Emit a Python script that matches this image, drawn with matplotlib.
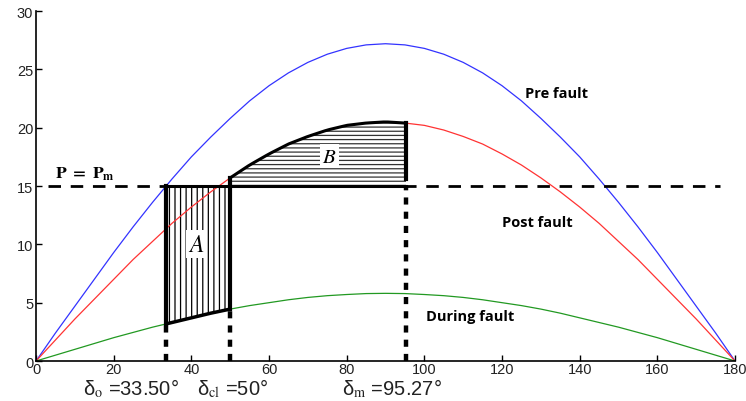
import numpy as np
import matplotlib
matplotlib.use("Agg")
import matplotlib.pyplot as plt

# ---- data ----
delta = [0, 5, 10, 15, 20, 25, 30, 35, 40, 45, 50, 55, 60, 65, 70, 75, 80, 85, 90,
         95, 100, 105, 110, 115, 120, 125, 130, 135, 140, 145, 150, 155, 160, 165, 170, 175, 180]
pre_fault = [0, 2.4, 4.7, 7.0, 9.3, 11.5, 13.6, 15.6, 17.5, 19.2, 20.8, 22.3, 23.6, 24.7, 25.6, 26.3, 26.8, 27.1, 27.2,
             27.1, 26.8, 26.3, 25.6, 24.7, 23.6, 22.3, 20.8, 19.2, 17.5, 15.6, 13.6, 11.5, 9.3, 7.0, 4.7, 2.4, 0]
post_fault = [0, 1.8, 3.6, 5.3, 7.0, 8.7, 10.25, 11.8, 13.2, 14.5, 15.7, 16.8, 17.75, 18.6, 19.25, 19.8, 20.2, 20.4, 20.5,
              20.4, 20.2, 19.8, 19.25, 18.6, 17.75, 16.8, 15.7, 14.5, 13.2, 11.8, 10.25, 8.7, 7.0, 5.3, 3.6, 1.8, 0]
during_fault = [0, 0.5, 1.0, 1.5, 2.0, 2.45, 2.9, 3.3, 3.7, 4.1, 4.45, 4.75, 5.0, 5.25, 5.45, 5.6, 5.7, 5.78, 5.8,
                5.78, 5.7, 5.6, 5.45, 5.25, 5.0, 4.75, 4.45, 4.1, 3.7, 3.3, 2.9, 2.45, 2.0, 1.5, 1.0, 0.5, 0]

Pm = 15.0
delta_0 = 33.5
delta_cl = 50.0
delta_m = 95.27
pm_line_range = [3, 176]

# ---- figure ----
plt.rcParams['hatch.linewidth'] = 0.9
plt.rcParams['mathtext.fontset'] = 'stix'
fig = plt.figure(figsize=(7.46, 4.02), dpi=100)
ax = fig.add_axes([0.0483, 0.0995, 0.9370, 0.8705])

d = np.array(delta, dtype=float)
pre = np.array(pre_fault)
post = np.array(post_fault)
dur = np.array(during_fault)

ax.plot(d, pre, color='#3333ff', lw=0.9)
ax.plot(d, post, color='#ff3333', lw=0.9)
ax.plot(d, dur, color='#229922', lw=0.9)

# region A
xa = np.linspace(delta_0, delta_cl, 30)
ya = np.interp(xa, d, dur)
ax.fill_between(xa, ya, Pm, facecolor='none', edgecolor='black', hatch='|||', lw=0)
ax.plot(xa, ya, color='black', lw=2.5, solid_capstyle='butt')
ax.plot([delta_0, delta_0], [np.interp(delta_0, d, dur), Pm], color='black', lw=3)
post_cl = np.interp(delta_cl, d, post)
ax.plot([delta_cl, delta_cl], [np.interp(delta_cl, d, dur), post_cl], color='black', lw=3)

# region B
xb = np.linspace(delta_cl, delta_m, 40)
yb = np.interp(xb, d, post)
ax.fill_between(xb, Pm, yb, facecolor='none', edgecolor='#333333', hatch='----', lw=0)
ax.plot(xb, yb, color='black', lw=2.2)
ax.plot([delta_m, delta_m], [Pm + 0.6, np.interp(delta_m, d, post)], color='black', lw=3)

# P = Pm line
ax.plot(pm_line_range, [Pm, Pm], color='black', lw=2, dashes=(4.5, 3.5))
ax.plot([delta_0, delta_m], [Pm, Pm], color='black', lw=2.2)

# vertical dashed drops
ax.plot([delta_0, delta_0], [0, np.interp(delta_0, d, dur)], color='black', lw=3.2, dashes=(1.6, 1.6))
ax.plot([delta_cl, delta_cl], [0, np.interp(delta_cl, d, dur)], color='black', lw=3.2, dashes=(1.6, 1.6))
ax.plot([delta_m, delta_m], [0, Pm], color='black', lw=3.2, dashes=(1.6, 1.6))

# labels
ax.text(41.3, 10.0, r'$A$', fontsize=17, ha='center', va='center',
        bbox=dict(facecolor='white', edgecolor='none', pad=1.5))
ax.text(75.5, 17.6, r'$B$', fontsize=15, ha='center', va='center',
        bbox=dict(facecolor='white', edgecolor='none', pad=1.5))
ax.text(5.0, 16.1, r'$\mathbf{P\ =\ P_m}$', fontsize=12.5, ha='left', va='center')
ax.text(126, 23.0, 'Pre fault', fontsize=10.5, fontweight='bold', family='Open Sans', ha='left', va='center')
ax.text(120, 11.9, 'Post fault', fontsize=10.5, fontweight='bold', family='Open Sans', ha='left', va='center')
ax.text(100.5, 3.9, 'During fault', fontsize=10.5, fontweight='bold', family='Open Sans', ha='left', va='center')

lab_y = -2.25
ax.text(24.5, lab_y, r'δ$_{\rm o}$ =33.50°', fontsize=14.5, ha='center', va='center',
        family='Liberation Sans', color='#222222')
ax.text(50.5, lab_y, r'δ$_{\rm cl}$ =50°', fontsize=14.5, ha='center', va='center',
        family='Liberation Sans', color='#222222')
ax.text(91.7, lab_y, r'δ$_{\rm m}$ =95.27°', fontsize=14.5, ha='center', va='center',
        family='Liberation Sans', color='#222222')

ax.set_xlim(0, 180)
ax.set_ylim(0, 30)
ax.set_xticks(range(0, 181, 20))
ax.set_yticks(range(0, 31, 5))
for s in ['top', 'right']:
    ax.spines[s].set_visible(False)
ax.spines['left'].set_linewidth(1.2)
ax.spines['bottom'].set_linewidth(1.2)
ax.tick_params(direction='in', length=4, width=1, labelsize=10.5, pad=2)
ax.tick_params(axis='x', pad=1)
for lbl in ax.get_xticklabels() + ax.get_yticklabels():
    lbl.set_family('Liberation Sans')
    lbl.set_color('#222222')

fig.savefig('out.png', dpi=100)
